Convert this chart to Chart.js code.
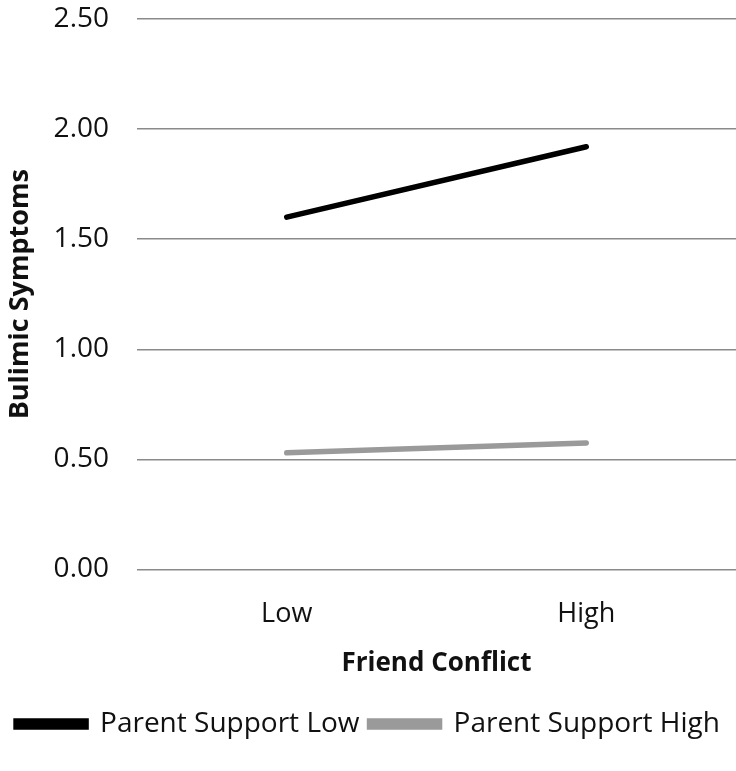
<!DOCTYPE html>
<html>
<head>
<meta charset="utf-8">
<script src="https://cdn.jsdelivr.net/npm/chart.js@4.4.1/dist/chart.umd.min.js"></script>
<style>
  html, body { margin: 0; padding: 0; background: #fff; }
  #wrap { width: 736px; height: 771px; }
</style>
</head>
<body>
<div id="wrap"><canvas id="chart"></canvas></div>
<script>
// values
const categories = ["Low", "High"];
const supportLow = [1.60, 1.92];
const supportHigh = [0.53, 0.575];
const seriesNames = ["Parent Support Low", "Parent Support High"];
const yTicks = [0, 0.5, 1.0, 1.5, 2.0, 2.5];

const FONT = "'Open Sans', sans-serif";

const ctx = document.getElementById("chart");
new Chart(ctx, {
  type: "line",
  data: {
    labels: categories,
    datasets: [
      {
        label: seriesNames[0],
        data: supportLow,
        borderColor: "#000000",
        backgroundColor: "#000000",
        borderWidth: 5.5,
        borderCapStyle: "round",
        pointRadius: 0,
        tension: 0,
      },
      {
        label: seriesNames[1],
        data: supportHigh,
        borderColor: "#9a9a9a",
        backgroundColor: "#9a9a9a",
        borderWidth: 5.5,
        borderCapStyle: "round",
        pointRadius: 0,
        tension: 0,
      },
    ],
  },
  options: {
    responsive: true,
    maintainAspectRatio: false,
    animation: false,
    layout: { padding: { top: 19, left: 0, right: 0, bottom: 23 } },
    plugins: {
      tooltip: { enabled: false },
      legend: {
        position: "bottom",
        labels: {
          color: "#111",
          font: { family: FONT, size: 28 },
          boxWidth: 70,
          boxHeight: 6,
          padding: 10,
        },
      },
    },
    scales: {
      x: {
        offset: true,
        afterFit: (scale) => {
          scale.height = 130.5;
        },
        grid: { display: false, drawTicks: false },
        border: { display: false },
        ticks: {
          color: "#111",
          font: { family: FONT, size: 27 },
          padding: 29,
        },
        title: {
          display: true,
          text: "Friend Conflict",
          color: "#111",
          font: { family: FONT, size: 26, weight: "bold" },
          padding: { top: 0, bottom: 21 },
        },
      },
      y: {
        min: 0,
        max: 2.5,
        afterBuildTicks: (scale) => {
          scale.ticks = yTicks.map((v) => ({ value: v }));
        },
        afterFit: (scale) => {
          scale.width = 137;
          scale.paddingTop = 0;
          scale.paddingBottom = 0;
        },
        grid: { color: "#8a8a8a", lineWidth: 1.6, drawTicks: false },
        border: { display: false },
        ticks: {
          color: "#111",
          font: { family: FONT, size: 28 },
          padding: 28,
          callback: (v) => Number(v).toFixed(2),
        },
        title: {
          display: true,
          text: "Bulimic Symptoms",
          color: "#111",
          font: { family: FONT, size: 27, weight: "bold" },
          padding: { top: 4, bottom: 0 },
        },
      },
    },
  },
});
</script>
</body>
</html>
